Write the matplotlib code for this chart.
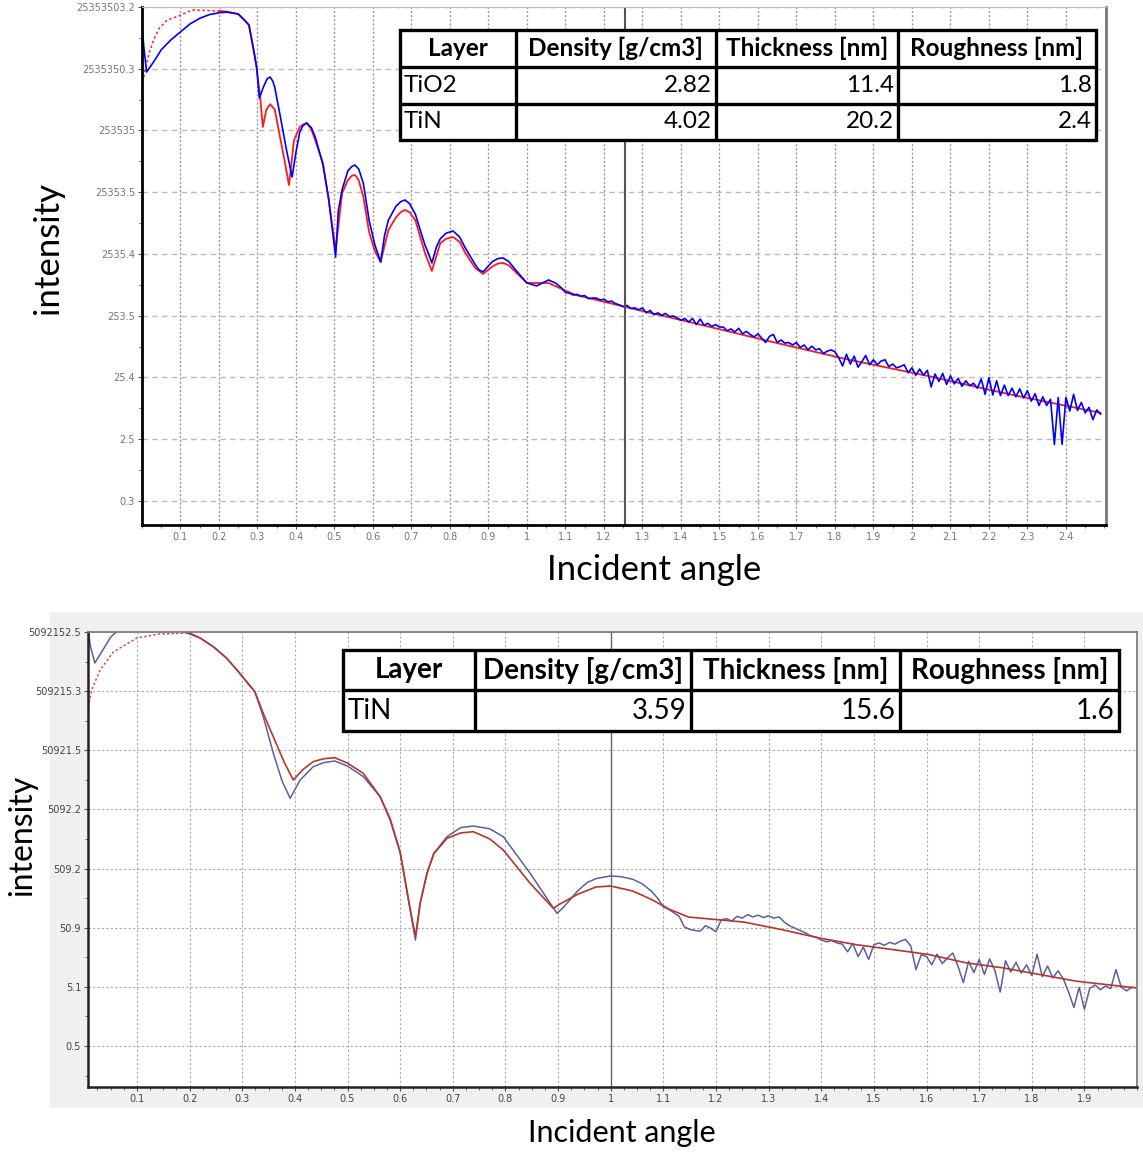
import numpy as np
import matplotlib
matplotlib.use("Agg")
import matplotlib.pyplot as plt
from matplotlib.patches import Rectangle
from matplotlib.ticker import FixedLocator, MultipleLocator, NullFormatter

# ---- top panel: TiO2 / TiN bilayer (log10 intensity) ----
top_fit_angle = [0.0, 0.01, 0.02, 0.03, 0.045, 0.065, 0.1, 0.13, 0.2,
                 0.22, 0.25, 0.265, 0.278, 0.29, 0.298, 0.307, 0.314, 0.323, 0.333,
                 0.345, 0.36, 0.37, 0.382, 0.395, 0.41, 0.418, 0.428, 0.44, 0.45, 0.47, 0.485,
                 0.503, 0.52, 0.535, 0.545, 0.553, 0.563, 0.575, 0.59, 0.605, 0.62, 0.64, 0.66,
                 0.672, 0.683, 0.695, 0.71, 0.735, 0.753, 0.775, 0.79, 0.808, 0.825, 0.84,
                 0.865, 0.886, 0.91,
                 0.925, 0.938, 0.953, 0.97, 1.0, 1.056, 1.09, 1.126, 1.2, 1.3, 1.43, 1.63,
                 1.83, 2.04, 2.24, 2.49]
top_fit_log = [6.11, 6.45, 6.68, 6.87, 7.06, 7.19, 7.27, 7.355, 7.34,
               7.33, 7.29, 7.20, 7.11, 6.71, 6.40, 5.95, 5.46, 5.74, 5.83,
               5.74, 5.25, 4.93, 4.52, 5.25, 5.46, 5.50, 5.525, 5.42, 5.25, 4.88, 4.28,
               3.47, 4.39, 4.60, 4.67, 4.683, 4.60, 4.33, 3.76, 3.45, 3.274, 3.79, 4.00,
               4.08, 4.117, 4.08, 3.95, 3.42, 3.129, 3.58, 3.65, 3.679, 3.60, 3.42,
               3.18, 3.08, 3.20,
               3.25, 3.258, 3.22, 3.113, 2.934, 2.934, 2.837, 2.74, 2.63, 2.48, 2.29, 1.99,
               1.70, 1.43, 1.15, 0.83]

top_meas_angle = [0.0, 0.005, 0.012, 0.02, 0.035, 0.05, 0.075, 0.1, 0.125, 0.15,
                  0.175, 0.2, 0.22, 0.25, 0.265, 0.278, 0.29, 0.298, 0.305, 0.315,
                  0.325, 0.333, 0.34, 0.345, 0.36, 0.375, 0.39, 0.4, 0.41, 0.418, 0.428,
                  0.44, 0.45,
                  0.47, 0.485, 0.503, 0.51, 0.52, 0.535, 0.545, 0.553, 0.563, 0.575, 0.59,
                  0.605, 0.62,
                  0.63, 0.64, 0.66, 0.672, 0.683, 0.695, 0.71, 0.735, 0.745, 0.753, 0.765,
                  0.775, 0.79, 0.808, 0.825, 0.84, 0.865, 0.875,
                  0.886, 0.91, 0.925, 0.938, 0.953, 0.97, 1.0, 1.025, 1.056, 1.075, 1.09]
top_meas_log = [7.11, 6.75, 6.35, 6.42, 6.56, 6.71, 6.87, 7.00, 7.13, 7.22,
                7.28, 7.31, 7.32, 7.29, 7.20, 7.11, 6.71, 6.43, 5.93, 6.10,
                6.24, 6.27, 6.20, 6.10, 5.61, 5.10, 4.65, 5.05, 5.38, 5.48, 5.525,
                5.45, 5.30,
                4.85, 4.30, 3.355, 4.10, 4.45, 4.75, 4.82, 4.845, 4.78, 4.55, 3.95,
                3.55, 3.274,
                3.70, 3.95, 4.18, 4.25, 4.278, 4.22, 4.05, 3.55, 3.40, 3.258, 3.52,
                3.65, 3.74, 3.776, 3.68, 3.50, 3.24, 3.15,
                3.113, 3.28, 3.33, 3.339, 3.28, 3.15, 2.934, 2.886, 2.983, 2.93, 2.853]
# noisy tail, one reading every 0.01 from 1.10 to 2.49
top_tail_log = [2.78, 2.77, 2.74, 2.75, 2.72, 2.73, 2.68, 2.69, 2.69, 2.66,
                2.67, 2.63, 2.64, 2.60, 2.58, 2.55, 2.57, 2.52, 2.53, 2.50,
                2.53, 2.45, 2.49, 2.42, 2.45, 2.41, 2.44, 2.39, 2.40, 2.37,
                2.33, 2.36, 2.30, 2.36, 2.26, 2.35, 2.25, 2.28, 2.23, 2.26,
                2.22, 2.22, 2.16, 2.19, 2.14, 2.20, 2.11, 2.15, 2.10, 2.06,
                2.11, 2.04, 1.97, 2.07, 2.10, 1.97, 2.01, 1.96, 1.97, 1.93,
                1.97, 1.89, 1.93, 1.85, 1.91, 1.85, 1.87, 1.79, 1.83, 1.85,
                1.82, 1.72, 1.59, 1.78, 1.62, 1.75, 1.57, 1.66, 1.76, 1.61,
                1.69, 1.61, 1.67, 1.69, 1.58, 1.62, 1.56, 1.58, 1.61, 1.48,
                1.56, 1.44, 1.54, 1.44, 1.52, 1.25, 1.46, 1.34, 1.47, 1.29,
                1.43, 1.30, 1.39, 1.26, 1.35, 1.27, 1.31, 1.23, 1.38, 1.13,
                1.40, 1.12, 1.35, 1.11, 1.28, 1.11, 1.23, 1.09, 1.22, 1.07,
                1.19, 1.02, 1.14, 0.95, 1.09, 0.95, 1.05, 0.32, 1.08, 0.32,
                1.08, 0.86, 1.13, 0.87, 1.00, 0.83, 0.92, 0.72, 0.88, 0.81]
top_tail_angle = np.round(1.10 + 0.01 * np.arange(len(top_tail_log)), 2)

top_ylabels = ["0.3", "2.5", "25.4", "253.5", "2535.4", "25353.5", "253535",
               "2535350.3", "25353503.2"]
top_ybase = 0.253535032

top_header = ["Layer", "Density [g/cm3]", "Thickness [nm]", "Roughness [nm]"]
top_rows = [["TiO2", "2.82", "11.4", "1.8"],
            ["TiN", "4.02", "20.2", "2.4"]]

# ---- bottom panel: TiN single layer ----
bot_fit_angle = [0.007, 0.015, 0.03, 0.055, 0.1, 0.141, 0.2, 0.22, 0.245, 0.27,
                 0.29, 0.324, 0.34, 0.359, 0.38, 0.397, 0.415, 0.435, 0.455, 0.476,
                 0.50, 0.53, 0.562, 0.581, 0.600, 0.619, 0.629, 0.638, 0.651, 0.664,
                 0.689, 0.715, 0.739, 0.77, 0.796, 0.847, 0.891, 0.902, 0.937, 0.972,
                 1.0, 1.042, 1.077, 1.112, 1.148, 1.197, 1.253, 1.323, 1.394, 1.464,
                 1.534, 1.604, 1.675, 1.745, 1.815, 1.885, 1.998]
bot_fit_log = [5.44, 5.75, 6.065, 6.37, 6.606, 6.673, 6.69, 6.606, 6.459, 6.268,
               6.065, 5.698, 5.33, 4.937, 4.50, 4.205, 4.38, 4.516, 4.565, 4.582,
               4.49, 4.318, 3.923, 3.55, 2.99, 2.03, 1.56, 2.12, 2.627, 2.96,
               3.219, 3.31, 3.331, 3.21, 3.021, 2.458, 2.035, 2.10, 2.272, 2.396,
               2.413, 2.328, 2.187, 2.018, 1.888, 1.848, 1.803, 1.679, 1.538, 1.424,
               1.340, 1.255, 1.114, 1.029, 0.916, 0.803, 0.690]

bot_meas_angle = [0.007, 0.012, 0.020, 0.035, 0.05, 0.061, 0.08, 0.12, 0.16, 0.19,
                  0.22, 0.245, 0.27, 0.29, 0.324, 0.34, 0.359, 0.375, 0.391, 0.41,
                  0.435, 0.455, 0.476, 0.50, 0.53, 0.562, 0.581, 0.600, 0.619, 0.629,
                  0.638, 0.651, 0.664, 0.689, 0.715, 0.739, 0.77, 0.796, 0.847, 0.898,
                  0.91, 0.937, 0.955, 0.972, 0.985, 1.0, 1.02, 1.042, 1.06, 1.077,
                  1.09]
bot_meas_log = [6.75, 6.45, 6.183, 6.40, 6.62, 6.71, 6.78, 6.82, 6.78, 6.71,
                6.606, 6.459, 6.268, 6.065, 5.698, 5.275, 4.661, 4.205, 3.895, 4.205,
                4.431, 4.50, 4.526, 4.44, 4.262, 3.923, 3.528, 2.970, 2.006, 1.50,
                2.120, 2.627, 2.965, 3.247, 3.40, 3.427, 3.38, 3.247, 2.627, 1.951,
                2.05, 2.328, 2.47, 2.537, 2.56, 2.583, 2.57, 2.526, 2.45, 2.328,
                2.20]
bot_tail_log = [2.06, 2.02, 1.96, 1.90, 1.72, 1.68, 1.66, 1.65, 1.74, 1.70,
                1.64, 1.84, 1.86, 1.82, 1.90, 1.87, 1.93, 1.89, 1.92, 1.88,
                1.91, 1.87, 1.89, 1.80, 1.74, 1.70, 1.66, 1.62, 1.57, 1.55,
                1.50, 1.47, 1.49, 1.45, 1.43, 1.30, 1.44, 1.22, 1.38, 1.17,
                1.42, 1.45, 1.41, 1.46, 1.43, 1.48, 1.51, 1.40, 1.00, 1.25,
                1.22, 1.08, 1.26, 1.10, 1.20, 1.28, 1.05, 0.78, 1.14, 0.95,
                1.17, 0.92, 1.18, 0.98, 0.62, 1.15, 0.96, 1.12, 0.94, 1.08,
                0.90, 1.26, 0.88, 1.06, 0.86, 0.98, 0.84, 0.62, 0.36, 0.70,
                0.33, 0.68, 0.74, 0.66, 0.72, 0.68, 1.00, 0.70, 0.64, 0.70]
bot_tail_angle = np.round(1.10 + 0.01 * np.arange(len(bot_tail_log)), 2)

bot_ylabels = ["0.5", "5.1", "50.9", "509.2", "5092.2", "50921.5", "509215.3",
               "5092152.5"]
bot_ybase = 0.50921525

bot_header = ["Layer", "Density [g/cm3]", "Thickness [nm]", "Roughness [nm]"]
bot_rows = [["TiN", "3.59", "15.6", "1.6"]]


def draw_table(ax, x0, y0, col_w, row_h, header, rows, fs):
    xs = x0 + np.concatenate([[0], np.cumsum(col_w)])
    ys = y0 - np.concatenate([[0], np.cumsum(row_h)])
    tr = ax.transAxes
    ax.add_patch(Rectangle((xs[0], ys[-1]), xs[-1] - xs[0], ys[0] - ys[-1],
                           transform=tr, facecolor="white", edgecolor="black",
                           lw=2.4, zorder=5, clip_on=False))
    for x in xs[1:-1]:
        ax.plot([x, x], [ys[-1], ys[0]], transform=tr, color="black", lw=2.4,
                zorder=6, clip_on=False, solid_capstyle="butt")
    for y in ys[1:-1]:
        ax.plot([xs[0], xs[-1]], [y, y], transform=tr, color="black", lw=2.4,
                zorder=6, clip_on=False, solid_capstyle="butt")
    pad = 0.004
    for j, h in enumerate(header):
        ax.text((xs[j] + xs[j + 1]) / 2, (ys[0] + ys[1]) / 2, h, transform=tr,
                ha="center", va="center", fontsize=fs, fontweight="bold",
                family="Lato", zorder=7)
    for i, row in enumerate(rows):
        yc = (ys[i + 1] + ys[i + 2]) / 2
        for j, val in enumerate(row):
            if j == 0:
                ax.text(xs[j] + pad, yc, val, transform=tr, ha="left", va="center",
                        fontsize=fs, family="Lato", zorder=7)
            else:
                ax.text(xs[j + 1] - pad, yc, val, transform=tr, ha="right",
                        va="center", fontsize=fs, family="Lato", zorder=7)


def style_axis(ax, base, labels, xticks, tick_font, tick_size, tick_color):
    ax.set_yscale("log")
    yt = [base * 10 ** k for k in range(len(labels))]
    ax.yaxis.set_major_locator(FixedLocator(yt))
    ax.set_yticklabels(labels)
    ax.yaxis.set_minor_locator(FixedLocator([base * 10 ** (k + 0.5)
                                             for k in range(-1, len(labels) - 1)]))
    ax.yaxis.set_minor_formatter(NullFormatter())
    ax.set_xticks(xticks)
    ax.set_xticklabels([f"{v:g}" for v in xticks])
    ax.tick_params(which="both", direction="out", color="#555555")
    ax.tick_params(which="major", length=3, pad=2, labelsize=tick_size,
                   labelcolor=tick_color)
    ax.tick_params(which="minor", length=2)
    for lab in ax.get_xticklabels() + ax.get_yticklabels():
        lab.set_family(tick_font)


fig = plt.figure(figsize=(11.43, 11.52), dpi=100)
fig.add_artist(Rectangle((0.0437, 0.0382), 0.9563, 0.4306, transform=fig.transFigure,
                         facecolor="#f0f0f0", edgecolor="none", zorder=-10))

# ---------------- top ----------------
ax1 = fig.add_axes([0.1242, 0.5443, 0.8434, 0.4497])
ta = np.array(top_fit_angle)
tl = np.array(top_fit_log)
ax1.plot(ta[ta <= 0.2], 10 ** tl[ta <= 0.2], color="#ff3030", lw=1.2,
         ls=(0, (1.5, 1.5)))
ax1.plot(ta[ta >= 0.2], 10 ** tl[ta >= 0.2], color="#ff1a1a", lw=1.3)
ma = np.concatenate([top_meas_angle, top_tail_angle])
ml = np.concatenate([top_meas_log, top_tail_log])
ax1.plot(ma, 10 ** ml, color="#0000ff", lw=1.2)
ax1.axvline(1.255, color="#555555", lw=1.5)
ax1.set_xlim(0, 2.504)
ax1.set_ylim(10 ** -0.985, 25353503.2 * 1.002)
style_axis(ax1, top_ybase, top_ylabels, np.arange(1, 25) / 10, "DejaVu Sans", 7,
           "#777777")
ax1.xaxis.set_minor_locator(MultipleLocator(0.05))
ax1.grid(axis="x", which="major", ls=(0, (1.5, 1.5)), color="#999999", lw=1)
ax1.grid(axis="y", which="major", ls=(0, (4, 3)), color="#bbbbbb", lw=1)
for s in ["left", "bottom"]:
    ax1.spines[s].set_linewidth(2)
    ax1.spines[s].set_color("black")
ax1.spines["right"].set_color("#777777")
ax1.spines["right"].set_linewidth(2)
ax1.spines["top"].set_color("#bbbbbb")
draw_table(ax1, 0.2676, 0.9556, np.array([116, 200, 182, 198]) / 964,
           np.array([37, 37, 36]) / 518, top_header, top_rows, 17.5)

fig.text(48 / 1143, 1 - 248 / 1152, "intensity", rotation=90, ha="center",
         va="center", fontsize=25, family="Lato")
fig.text(654 / 1143, 1 - 570 / 1152, "Incident angle", ha="center", va="center",
         fontsize=25, family="Lato")

# ---------------- bottom ----------------
ax2 = fig.add_axes([0.0770, 0.0564, 0.9178, 0.3950])
ax2.set_facecolor("white")
ma2 = np.concatenate([bot_meas_angle, bot_tail_angle])
ml2 = np.concatenate([bot_meas_log, bot_tail_log])
ax2.plot(ma2, 10 ** ml2, color="#5c5f9e", lw=1.1)
ba = np.array(bot_fit_angle)
bl = np.array(bot_fit_log)
ax2.plot(ba[ba <= 0.2], 10 ** bl[ba <= 0.2], color="#c0504d", lw=1.1,
         ls=(0, (1.5, 1.5)))
ax2.plot(ba[ba >= 0.2], 10 ** bl[ba >= 0.2], color="#b5372c", lw=1.2)
ax2.axvline(1.0, color="#666666", lw=1)
ax2.set_xlim(0.007, 2.0)
ax2.set_ylim(10 ** -0.986, 5092152.5 * 1.002)
style_axis(ax2, bot_ybase, bot_ylabels, np.arange(1, 20) / 10,
           ["Liberation Sans Narrow", "DejaVu Sans"], 7, "#444444")
ax2.xaxis.set_minor_locator(MultipleLocator(0.025))
ax2.grid(which="major", ls=(0, (2, 2)), color="#aaaaaa", lw=0.8)
for s in ["left", "bottom"]:
    ax2.spines[s].set_linewidth(1.8)
    ax2.spines[s].set_color("#222222")
for s in ["right", "top"]:
    ax2.spines[s].set_linewidth(1.2)
    ax2.spines[s].set_color("#777777")
draw_table(ax2, 0.2431, 0.9604, np.array([132, 216, 209, 219]) / 1049,
           np.array([40, 41]) / 455, bot_header, bot_rows, 20)

fig.text(22 / 1143, 1 - 835 / 1152, "intensity", rotation=90, ha="center",
         va="center", fontsize=23, family="Lato")
fig.text(622 / 1143, 1 - 1133 / 1152, "Incident angle", ha="center", va="center",
         fontsize=22, family="Lato")

fig.savefig("out.png", dpi=100)
